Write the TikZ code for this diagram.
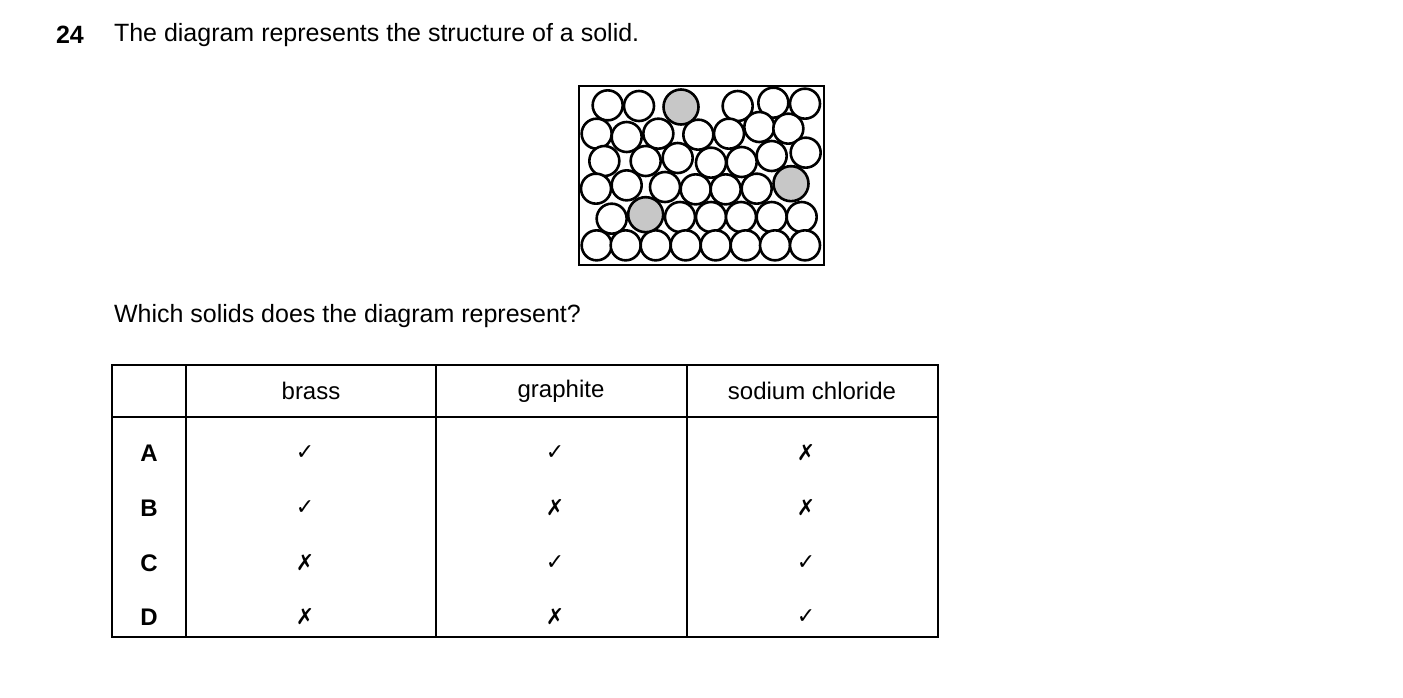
\documentclass[tikz,border=0pt]{standalone}
\usepackage{fontspec}
\setmainfont{Liberation Sans}
\newfontfamily\symfont{DejaVu Sans}
\usetikzlibrary{positioning}

\begin{document}
\begin{tikzpicture}[x=0.5pt,y=-0.5pt,line width=1pt,
   atom/.style={circle,draw=black,line width=1.3pt,fill=white,minimum size=15pt,inner sep=0pt},
   big/.style={atom,fill=black!22,minimum size=17.5pt},
   txt/.style={font=\fontsize{12.5}{14}\selectfont,inner sep=0pt},
   cell/.style={font=\fontsize{12}{14}\selectfont,inner sep=0pt},
   tick/.style={font=\symfont\fontsize{11}{13}\selectfont,inner sep=0pt}]
 \useasboundingbox (0,0) rectangle (1403,697);
 % question text
 \node[txt,font=\bfseries\fontsize{12.5}{14}\selectfont,anchor=west] (num) at (55,35) {24};
 \node[txt,anchor=west] (q1) at (113,35) {The diagram represents the structure of a solid.};
 \node[txt,anchor=west] (q2) at (113,316) {Which solids does the diagram represent?};
 % particles
 \draw[line width=1.3pt] (579,86) rectangle (824,265);
 \foreach \x/\y in {98/70,192/72,488/72,595/62,690/65,
   65/155,155/165,250/155,370/158,462/155,553/135,640/140,
   88/237,212/237,308/228,408/242,500/240,590/222,692/212,
   63/320,155/310,270/315,362/322,452/322,545/320,
   110/410,315/405,408/405,498/405,590/405,680/405,
   65/490,152/490,242/490,332/490,422/490,512/490,600/490,690/490}
   \node[atom] at ({575+\x/3},{82+\y/3}) {};
 \foreach \x/\y in {318/75,648/305,212/398}
   \node[big] at ({575+\x/3},{82+\y/3}) {};
 % table
 \draw (112,365) rectangle (938,637);
 \draw (112,417) -- (938,417);
 \foreach \x in {186,436,687} \draw (\x,365) -- (\x,637);
 \node[cell] (h1) at (311,391) {brass};
 \node[cell] (h2) at (561,391) {graphite};
 \node[cell] (h3) at (812,391) {sodium chloride};
 \foreach \r/\y/\a/\b/\c in {A/453/1/1/0,B/508/1/0/0,C/563/0/1/1,D/617/0/0/1}{
   \node[cell,font=\bfseries\fontsize{12}{14}\selectfont] (row\r) at (149,\y) {\r};
   \node[tick] (m\r1) at (305,\y) {\ifnum\a=1 ✓\else ✗\fi};
   \node[tick] (m\r2) at (555,\y) {\ifnum\b=1 ✓\else ✗\fi};
   \node[tick] (m\r3) at (806,\y) {\ifnum\c=1 ✓\else ✗\fi};
 }
\end{tikzpicture}
\end{document}
